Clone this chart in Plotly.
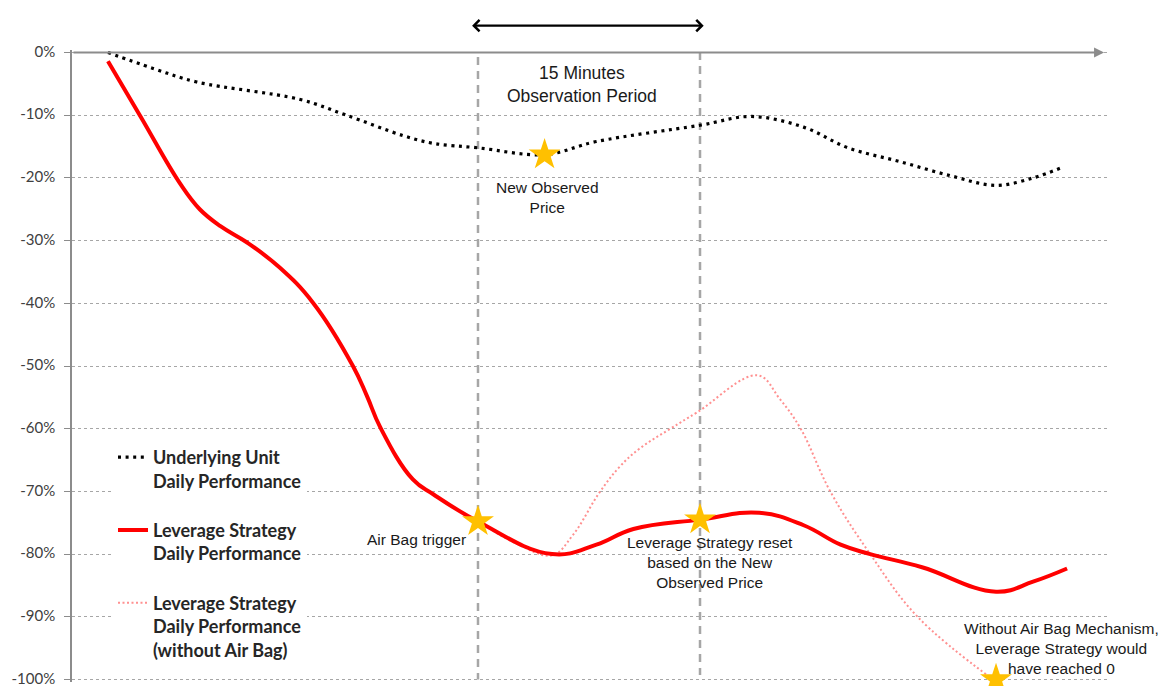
import plotly.graph_objects as go

# ---------------- data (time in minutes, performance in %) ----------------
underlying_t = [0, 3, 6, 13, 16, 20, 22, 25, 29.5, 33, 40, 43.5, 47, 50, 53.5, 57, 60, 62.5, 64.5]
underlying_v = [0, -2.5, -4.7, -7.5, -9.9, -13.3, -14.5, -15.2, -16.3, -14.2, -11.6, -10.2, -11.9,
                -15.2, -17.4, -19.7, -21.2, -20.0, -18.3]

lev_t = [0, 2.2, 4.9, 6.2, 7.6, 9.4, 11.6, 13.85, 16.55, 17.5, 18.4, 20.6, 22, 25, 30, 33,
         35.5, 40, 44, 47, 49.5, 51.5, 55, 60, 62.5, 64.8]
lev_v = [-1.4, -10.2, -21.0, -25.0, -27.7, -30.3, -34.3, -39.9, -50, -54.8, -59.8, -68.1,
         -70.5, -74.8, -80, -78.5, -76, -74.5, -73.4, -75.4, -78.5, -80, -82.1, -86, -84.4, -82.3]

noairbag_t = [0, 2.2, 4.9, 6.2, 7.6, 9.4, 11.6, 13.85, 16.55, 17.5, 18.4, 20.6, 22, 25, 27.5,
              30, 31.4, 33.2, 34.6, 35.9, 38, 39.8, 43.9, 45.4, 46.8, 48.8, 51.5, 54.7, 59.8]
noairbag_v = [-1.4, -10.2, -21.0, -25.0, -27.7, -30.3, -34.3, -39.9, -50, -54.8, -59.8,
              -68.1, -70.5, -74.8, -78.2, -80.2, -77, -70.2, -66, -63.2, -60, -57.4, -51.5, -55.3, -60,
              -70, -80, -90, -100]

star_t = [25, 29.5, 40, 60]
star_v = [-74.8, -16.3, -74.5, -100]

period_start = 25
period_end = 40

y_ticks = [0, -10, -20, -30, -40, -50, -60, -70, -80, -90, -100]
y_tick_labels = ["0%", "-10%", "-20%", "-30%", "-40%", "-50%", "-60%", "-70%", "-80%", "-90%", "-100%"]

names = ["<b>Underlying Unit<br>Daily Performance</b>",
         "<b>Leverage Strategy<br>Daily Performance</b>",
         "<b>Leverage Strategy<br>Daily Performance<br>(without Air Bag)</b>"]

# ---------------- figure ----------------
fig = go.Figure()

fig.add_trace(go.Scatter(x=underlying_t, y=underlying_v, mode="lines", name=names[0],
                         legendgroup="a", legendrank=1,
                         line=dict(color="#000000", width=3.2, dash="3px,4.6px", shape="spline", smoothing=1)))
fig.add_trace(go.Scatter(x=noairbag_t, y=noairbag_v, mode="lines", name=names[2],
                         legendgroup="c", legendrank=3,
                         line=dict(color="#FF9090", width=2, dash="2px,2.5px", shape="spline", smoothing=1.1)))
fig.add_trace(go.Scatter(x=lev_t, y=lev_v, mode="lines", name=names[1],
                         legendgroup="b", legendrank=2,
                         line=dict(color="#FF0000", width=4, shape="spline", smoothing=1.2)))

fig.add_trace(go.Scatter(x=star_t, y=star_v, mode="markers", showlegend=False, cliponaxis=False,
                         marker=dict(symbol="star", size=24, color="#FFC000",
                                     line=dict(width=0))))

# vertical dashed lines marking the observation period
for xv, y0, y1 in [(period_start, -0.7, -100), (period_end, 0.1, -99.3)]:
    fig.add_shape(type="line", xref="x", yref="y", x0=xv, x1=xv, y0=y0, y1=y1,
                  line=dict(color="#A6A6A6", width=2.5, dash="8px,6px"), layer="below")

txt_font = dict(family="Liberation Sans, Arial, sans-serif", size=15.5, color="#1A1A1A")

annotations = [
    # x axis with arrow
    dict(x=67.3, y=0, xref="x", yref="y", ax=-2.43, ay=0, axref="x", ayref="y",
         showarrow=True, arrowhead=2, arrowsize=1, arrowwidth=2, arrowcolor="#8C8C8C", text=""),
    # double arrow for period
    dict(x=40.25, y=1.0385, xref="x", yref="paper", ax=24.5, ay=0, axref="x", ayref="pixel",
         showarrow=True, arrowhead=4, startarrowhead=4, arrowside="end+start",
         arrowsize=1, startarrowsize=1, arrowwidth=2.2, arrowcolor="#000000", text=""),
    dict(x=32.0, y=-5.1, xref="x", yref="y", showarrow=False,
         text="15 Minutes<br>Observation Period",
         font=dict(family="Liberation Sans, Arial, sans-serif", size=17.5, color="#1A1A1A")),
    dict(x=29.7, y=-23.1, xref="x", yref="y", showarrow=False,
         text="New Observed<br>Price", font=txt_font),
    dict(x=24.3, y=-77.6, xref="x", yref="y", showarrow=False, xanchor="right",
         text="Air Bag trigger", font=txt_font),
    dict(x=40.7, y=-81.4, xref="x", yref="y", showarrow=False,
         text="Leverage Strategy reset<br>based on the New<br>Observed Price", font=txt_font),
    dict(x=64.4, y=-95.0, xref="x", yref="y", showarrow=False,
         text="Without Air Bag Mechanism,<br>Leverage Strategy would<br>have reached 0", font=txt_font),
]

fig.update_layout(
    width=1163, height=686,
    margin=dict(l=72, r=53, t=50, b=4, autoexpand=False),
    paper_bgcolor="white", plot_bgcolor="white",
    annotations=annotations,
    showlegend=True,
    legend=dict(x=0.0395, y=0.3845, xanchor="left", yanchor="top",
                bgcolor="white", borderwidth=0, valign="top",
                tracegroupgap=23,
                font=dict(family="Lato, Calibri, sans-serif", size=18, color="#262626")),
    xaxis=dict(range=[-2.43, 67.7], showgrid=False, zeroline=False, showline=False,
               showticklabels=False, ticks="", automargin=False),
    yaxis=dict(range=[-100.4, 0.4], tickvals=y_ticks, ticktext=y_tick_labels,
               showgrid=True, gridcolor="#A6A6A6", gridwidth=1, griddash="dot",
               zeroline=False, showline=True, linecolor="#8C8C8C", linewidth=1.5,
               ticks="outside", ticklen=6, tickcolor="#8C8C8C", tickwidth=1.2,
               ticklabelstandoff=6, ticklabeloverflow="allow", automargin=False,
               ticklabelshift=-1,
               tickfont=dict(family="Lato, Calibri, sans-serif", size=15, color="#404040")),
)

fig.write_html("out.html", config=dict(displayModeBar=False),
               post_script="document.body.style.margin='0';document.body.style.overflow='hidden';")
